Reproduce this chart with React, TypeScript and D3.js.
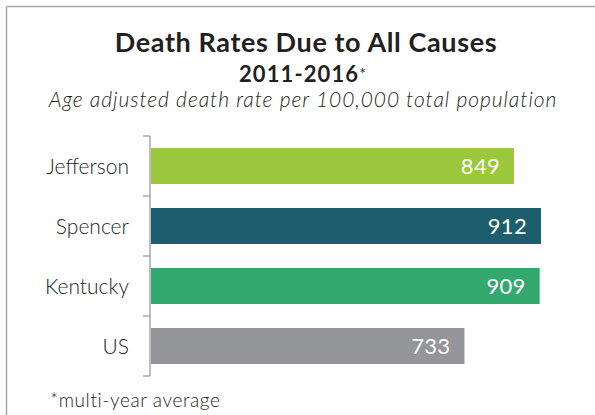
import React from "react";
import * as d3 from "d3";

const categories = ["Jefferson", "Spencer", "Kentucky", "US"];
const rates = [849, 912, 909, 733];
const barColors = ["#9bc83c", "#1d5e6e", "#33a96f", "#939598"];

const FONT = "Lato, 'Noto Sans', sans-serif";

export default function App() {
  const width = 595;
  const height = 415;

  // Scales
  const x = d3.scaleLinear().domain([0, 1000]).range([151, 578.6]);
  const y = d3
    .scaleBand()
    .domain(categories)
    .range([136, 376])
    .paddingInner(0.4)
    .paddingOuter(0.2);

  // tick marks sit between the bands
  const tickYs = [136, ...categories.map((c) => y(c)! + y.bandwidth() + (y.step() - y.bandwidth()) / 2)];

  return (
    <svg
      width={width}
      height={height}
      style={{ position: "absolute", left: 0, top: 0, background: "#fff" }}
    >
      {/* frame */}
      <line x1={6.5} y1={6.5} x2={width} y2={6.5} stroke="#a6a6a6" strokeWidth={1.5} />
      <line x1={6.5} y1={6.5} x2={6.5} y2={height} stroke="#a6a6a6" strokeWidth={1.5} />

      {/* titles */}
      <text x={306} y={52} textAnchor="middle" fontFamily={FONT} fontWeight="bold" fontSize={27} letterSpacing={0.6} fill="#231f20">
        Death Rates Due to All Causes
      </text>
      <text x={303} y={82} textAnchor="middle" fontFamily={FONT} fontWeight="bold" fontSize={22} letterSpacing={1.1} fill="#231f20">
        2011-2016<tspan fontWeight="normal" fontSize={16} dy={-3}>*</tspan>
      </text>
      <text x={303} y={107} textAnchor="middle" fontFamily={FONT} fontStyle="italic" fontWeight={300} fontSize={21} letterSpacing={0.95} fill="#231f20">
        Age adjusted death rate per 100,000 total population
      </text>

      {/* axis */}
      <g stroke="#a7a9ac" strokeWidth={1.5} fill="none">
        <line x1={150} x2={150} y1={136} y2={376} />
        {tickYs.map((t, i) => (
          <line key={i} x1={143} x2={150} y1={t} y2={t} />
        ))}
      </g>

      {/* bars */}
      {categories.map((c, i) => (
        <g key={c}>
          <rect
            x={x(0)}
            y={y(c)}
            width={x(rates[i]) - x(0)}
            height={y.bandwidth()}
            fill={barColors[i]}
          />
          <text
            x={x(rates[i]) - 14}
            y={y(c)! + y.bandwidth() / 2}
            dy="0.36em"
            textAnchor="end"
            fontFamily={FONT}
            fontSize={22}
            letterSpacing={0.3}
            fill="#fff"
          >
            {rates[i]}
          </text>
          <text
            x={129}
            y={y(c)! + y.bandwidth() / 2}
            dy="0.36em"
            textAnchor="end"
            fontFamily={FONT}
            fontWeight={300}
            fontSize={21}
            fill="#231f20"
          >
            {c}
          </text>
        </g>
      ))}

      {/* footnote */}
      <text x={50} y={407} fontFamily={FONT} fontWeight={300} fontSize={19} letterSpacing={0.6} fill="#231f20">
        *multi-year average
      </text>
    </svg>
  );
}
